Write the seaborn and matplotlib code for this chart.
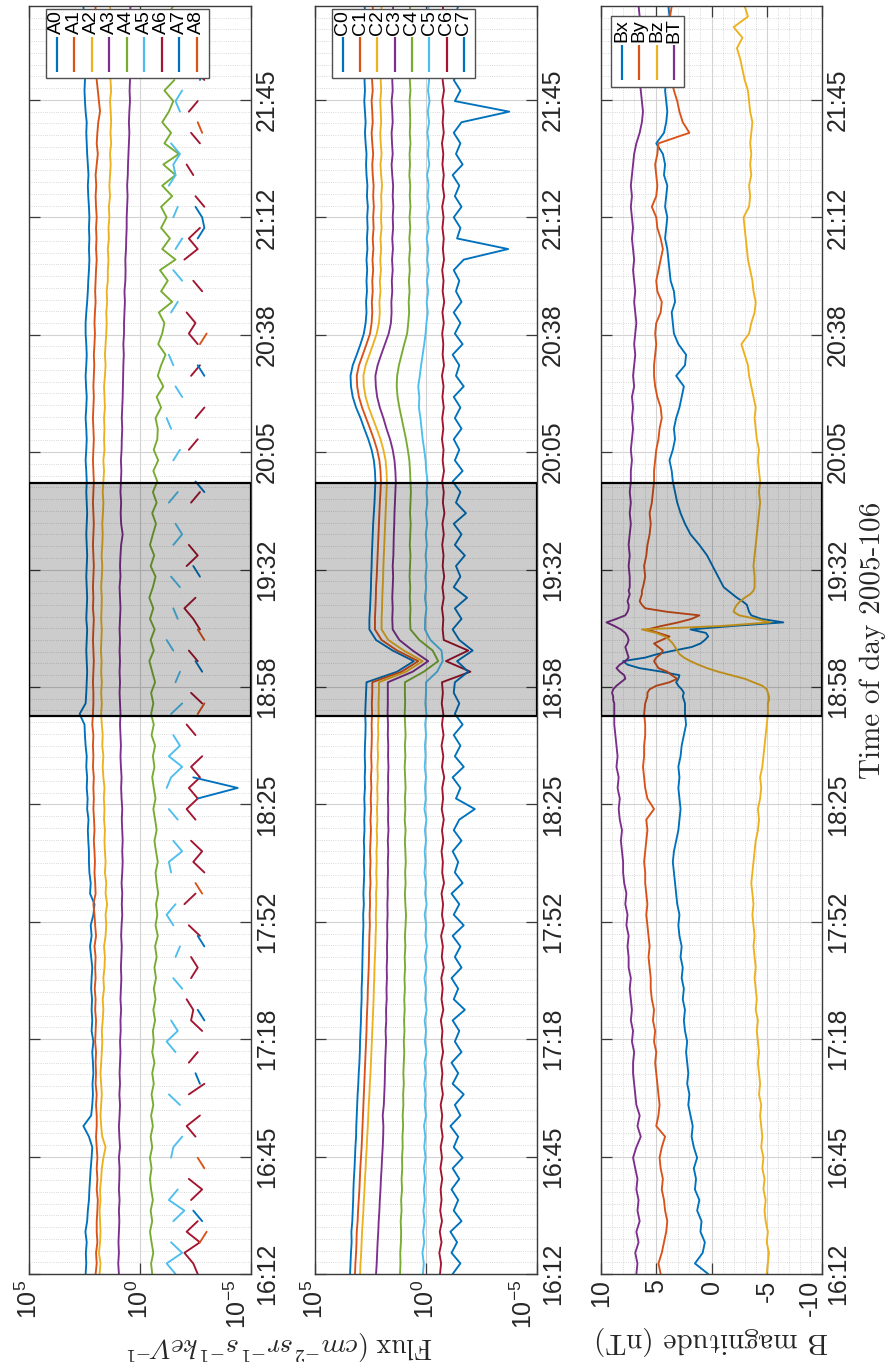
import numpy as np
import pandas as pd
import matplotlib
matplotlib.use("Agg")
import matplotlib.pyplot as plt
from matplotlib.patches import Rectangle
from matplotlib.ticker import NullLocator
import seaborn as sns

N = np.nan

# ---------------- time bases ----------------
T_START_H = 16.2                       # 16:12
AC_MINUTES = list(range(0, 361, 3))    # sample times (minutes after 16:12) for A and C channels
B_MINUTES = list(range(0, 160, 3)) + list(range(162, 196)) + list(range(198, 361, 3))
TIME_TICK_LABELS = ['16:12', '16:45', '17:18', '17:52', '18:25', '18:58',
                    '19:32', '20:05', '20:38', '21:12', '21:45']
SHADE_START_H = 18 + 50.5 / 60
SHADE_END_H = 19 + 56.5 / 60

# ---------------- panel 1: A channels (log10 flux) ----------------
A_NAMES = ['A0', 'A1', 'A2', 'A3', 'A4', 'A5', 'A6', 'A7', 'A8']
A0 = [2.45, 2.42, 2.44, 2.40, 2.46, 2.38, 2.35, 2.30, 2.28, 2.25,
      2.22, 2.18, 2.15, 2.30, 2.55, 2.20, 2.15, 2.12, 2.14, 2.10,
      2.12, 2.15, 2.10, 2.18, 2.15, 2.18, 2.16, 2.20, 2.18, 2.15,
      2.20, 2.25, 2.18, 2.22, 2.10, 2.05, 2.25, 2.22, 2.28, 2.30,
      2.30, 2.33, 2.35, 2.32, 2.38, 2.36, 2.40, 2.38, 2.42, 2.40,
      2.45, 2.48, 2.50, 2.72, 2.45, 2.42, 2.40, 2.38, 2.40, 2.42,
      2.40, 2.38, 2.42, 2.40, 2.38, 2.40, 2.42, 2.40, 2.38, 2.40,
      2.42, 2.40, 2.38, 2.40, 2.42, 2.40, 2.42, 2.45, 2.42, 2.40,
      2.42, 2.45, 2.42, 2.40, 2.43, 2.45, 2.42, 2.40, 2.42, 2.45,
      2.45, 2.42, 2.38, 2.35, 2.33, 2.30, 2.28, 2.30, 2.28, 2.30,
      2.28, 2.30, 2.33, 2.35, 2.32, 2.35, 2.38, 2.40, 2.42, 2.40,
      2.45, 2.48, 2.50, 2.48, 2.50, 2.52, 2.50, 2.52, 2.55, 2.52, 2.55]
A1 = [2.00, 1.95, 1.98, 1.92, 1.95, 1.95, 1.92, 1.90, 1.95, 1.92,
      1.95, 1.92, 1.95, 1.98, 1.95, 1.95, 1.98, 1.95, 2.00, 1.98,
      2.00, 1.98, 2.02, 2.00, 1.98, 2.02, 2.00, 2.04, 2.00, 2.02,
      2.00, 2.05, 1.98, 2.02, 2.05, 2.10, 2.00, 2.02, 2.05, 2.03,
      2.05, 2.08, 2.05, 2.07, 2.10, 2.08, 2.10, 2.08, 2.12, 2.10,
      2.12, 2.10, 2.15, 2.12, 2.10, 2.10, 2.12, 2.10, 2.08, 2.10,
      2.12, 2.10, 2.08, 2.12, 2.10, 2.12, 2.10, 2.08, 2.10, 2.12,
      2.10, 2.08, 2.10, 2.12, 2.10, 2.08, 2.10, 2.12, 2.10, 2.08,
      2.10, 2.12, 2.10, 2.08, 2.10, 2.08, 2.06, 2.08, 2.05, 2.03,
      2.05, 2.03, 2.00, 2.02, 2.00, 1.98, 1.95, 1.98, 1.96, 1.98,
      1.95, 1.98, 2.00, 1.97, 2.00, 1.95, 1.90, 1.95, 1.92, 1.88,
      1.80, 1.85, 1.90, 1.95, 1.98, 2.00, 2.02, 2.00, 2.03, 2.02, 2.00]
A2 = [1.82, 1.78, 1.85, 1.80, 1.78, 1.80, 1.82, 1.78, 1.80, 1.75,
      1.72, 1.65, 1.55, 1.70, 1.75, 1.78, 1.75, 1.72, 1.75, 1.78,
      1.75, 1.72, 1.70, 1.72, 1.68, 1.65, 1.68, 1.62, 1.65, 1.60,
      1.58, 1.62, 1.55, 1.52, 1.55, 1.48, 1.55, 1.52, 1.58, 1.55,
      1.58, 1.60, 1.58, 1.62, 1.60, 1.63, 1.60, 1.65, 1.68, 1.65,
      1.70, 1.68, 1.72, 1.75, 1.72, 1.75, 1.72, 1.75, 1.73, 1.76,
      1.74, 1.72, 1.75, 1.73, 1.72, 1.75, 1.72, 1.70, 1.73, 1.70,
      1.68, 1.70, 1.67, 1.65, 1.68, 1.65, 1.62, 1.65, 1.60, 1.62,
      1.60, 1.62, 1.58, 1.60, 1.62, 1.58, 1.55, 1.58, 1.55, 1.52,
      1.50, 1.52, 1.48, 1.50, 1.45, 1.45, 1.42, 1.45, 1.40, 1.42,
      1.38, 1.40, 1.35, 1.38, 1.35, 1.32, 1.35, 1.30, 1.33, 1.30,
      1.32, 1.35, 1.30, 1.33, 1.35, 1.32, 1.35, 1.33, 1.35, 1.32, 1.35]
A3 = [0.95, 0.98, 0.95, 0.97, 0.95, 0.93, 0.95, 0.92, 0.95, 0.93,
      0.92, 0.95, 0.90, 0.93, 0.95, 0.92, 0.90, 0.93, 0.90, 0.92,
      0.90, 0.88, 0.90, 0.87, 0.88, 0.85, 0.88, 0.86, 0.84, 0.86,
      0.84, 0.82, 0.85, 0.83, 0.80, 0.82, 0.80, 0.83, 0.80, 0.78,
      0.80, 0.78, 0.80, 0.82, 0.80, 0.83, 0.85, 0.83, 0.86, 0.88,
      0.86, 0.88, 0.90, 0.88, 0.90, 0.92, 0.90, 0.92, 0.90, 0.92,
      0.90, 0.92, 0.90, 0.88, 0.90, 0.92, 0.88, 0.90, 0.88, 0.85,
      0.78, 0.85, 0.87, 0.85, 0.88, 0.86, 0.84, 0.86, 0.83, 0.82,
      0.80, 0.82, 0.80, 0.78, 0.77, 0.76, 0.75, 0.73, 0.75, 0.72,
      0.72, 0.70, 0.68, 0.70, 0.66, 0.65, 0.66, 0.63, 0.62, 0.60,
      0.60, 0.58, 0.56, 0.58, 0.55, 0.54, 0.52, 0.50, 0.48, 0.50,
      0.48, 0.45, 0.47, 0.45, 0.43, 0.45, 0.43, 0.45, 0.44, 0.45, 0.43]
A4 = [-0.55, -0.50, -0.60, -0.52, -0.45, -0.55, -0.48, -0.58, -0.50, -0.45,
      -0.52, -0.45, -0.55, -0.48, -0.58, -0.50, -0.60, -0.52, -0.62, -0.55,
      -0.65, -0.55, -0.62, -0.58, -0.68, -0.60, -0.70, -0.62, -0.72, -0.65,
      -0.75, -0.68, -0.80, -0.70, -0.78, -0.72, -0.82, -0.75, -0.70, -0.80,
      -0.72, -0.65, -0.75, -0.68, -0.60, -0.70, -0.62, -0.55, -0.65, -0.58,
      -0.68, -0.52, -0.62, -0.50, -0.60, -0.50, -0.68, -0.55, -0.42, -0.62,
      -0.48, -0.66, -0.45, -0.60, -0.42, -0.58, -0.70, -0.48, -0.64, -0.45,
      -0.58, -0.72, -0.55, -0.75, -0.58, -0.78, -0.60, -0.82, -0.62, -0.78,
      -0.80, -0.70, -0.95, -0.75, -1.05, -0.80, -0.95, -1.15, -0.82, -1.00,
      -1.10, -0.85, -1.45, -0.95, -1.25, -0.90, -1.60, -1.00, -1.35, -0.95,
      -1.20, -0.95, -1.45, -1.00, -1.60, -1.05, -1.75, -1.10, -1.40, -1.00,
      -1.30, -1.50, -1.10, -1.55, N, -1.00, -1.45, N, N, -1.20, -1.50]
A5 = ([-1.6, -1.2, -1.9, -1.4, N, -1.5, -2.0, -1.3, -1.7, N] +
      [N, -1.4, -1.5, -1.9, N, N, -1.8, -1.3, N, N] +
      [N, -1.6, -1.2, -1.7, -1.4, N, N, -1.9, -1.5, N] +
      [-1.6, -1.8, N, -1.5, -1.2, -1.6, N, N, -1.4, -1.3] +
      [-1.9, -1.5, N, -1.7, -1.3, N, -1.2, -1.4, -1.9, -1.3] +
      [-1.8, -1.5, N, -1.4, -1.9, N, -1.6, -1.8, N, -1.5] +
      [-1.2, N, -1.7, -1.5, N, -1.8, -1.4, N, N, -1.5] +
      [-1.9, -1.6, N, -1.3, -1.7, N, N, -1.5, -1.8, N] +
      [-1.4, -1.2, N, -1.9, -1.6, N, -1.5, -1.3, N, N] +
      [N, -1.4, -1.7, N, -1.9, -1.5, N, -1.6, -1.9, N] +
      [-1.5, -1.7, N, -1.3, -1.6, -1.5, -1.8, -1.4, N, N] +
      [-1.8, -1.6, -1.9, N, -1.4, -1.7, N, -1.5, -1.3, N, N])
A6 = ([-2.6, -2.4, -2.0, -2.7, -2.1, -2.6, N, -2.3, -2.8, -2.2] +
      [N, -2.7, N, -2.5, -2.1, -2.7, N, -2.2, -2.9, N] +
      [-2.2, -2.6, N, -2.8, -2.3, -2.4, -2.1, N, -2.3, -2.6] +
      [-2.3, N, -2.7, -2.2, N, -2.0, -2.5, N, -2.9, -2.4] +
      [-2.8, -2.3, N, -2.5, -2.1, -2.6, -2.2, -2.7, -2.3, -2.8] +
      [N, -2.5, -2.1, N, -2.8, -2.3, N, N, -2.6, -2.2] +
      [N, -2.7, -2.4, -2.0, -2.5, N, N, -2.1, -2.6, -2.2] +
      [N, -2.8, N, -2.3, -2.7, N, -2.4, N, -2.2, -2.6] +
      [N, -2.5, -2.9, N, N, -2.3, -2.7, N, -2.6, -2.2] +
      [-2.5, -2.1, N, -2.8, -2.4, N, -2.0, -2.6, -2.2, -2.7] +
      [N, -2.9, -2.5, N, -2.4, -2.1, N, -2.7, -2.3, N] +
      [-2.2, -2.6, N, -2.9, -2.4, N, -2.3, -2.7, N, N, N])
A7 = ([N, N, N, N, N, -2.8, -2.4, N, N, N] +
      [N, N, N, N, N, N, N, N, -2.7, -2.5] +
      [N, N, N, N, -2.9, -2.6, N, N, N, N] +
      [N, -2.9, -2.6, N, N, N, N, N, N, N] +
      [N, N, N, N, N, -2.6, -4.4, -2.4, N, N] +
      [N, N, N, N, N, N, N, -2.8, -2.5, N] +
      [N, N, N, N, N, N, -2.7, -2.4, N, N] +
      [N, N, N, N, -2.9, -2.5, N, N, N, N] +
      [N, N, N, N, N, -2.9, -2.6, N, N, N] +
      [N, N, N, N, N, N, N, N, -2.6, -2.9] +
      [-2.8, -2.5, N, N, N, N, N, N, N, N] +
      [N, N, N, -2.7, -2.9, N, N, N, N, N, N])
A8 = ([N, N, N, -2.7, -3.0, N, N, N, N, N] +
      [-2.9, -2.6, N, N, N, N, N, N, N, N] +
      [N] * 10 +
      [N, N, N, N, N, N, -2.8, -2.5, N, N] +
      [N] * 10 +
      [N, N, N, -2.6, -2.9, N, N, N, N, N] +
      [-2.9, -2.6, N, N, N, N, N, N, N, N] +
      [N] * 10 +
      [N, N, N, N, N, N, N, N, -2.7, -3.0] +
      [N] * 10 +
      [N, N, N, N, N, N, N, N, -2.8, -2.6] +
      [N] * 11)

# ---------------- panel 2: C channels (log10 flux) ----------------
C_NAMES = ['C0', 'C1', 'C2', 'C3', 'C4', 'C5', 'C6', 'C7']
C0 = [3.42, 3.40, 3.38, 3.35, 3.36, 3.32, 3.30, 3.28, 3.27, 3.25,
      3.22, 3.20, 3.18, 3.15, 3.14, 3.12, 3.10, 3.08, 3.05, 3.03,
      3.00, 2.98, 2.97, 2.95, 2.93, 2.92, 2.90, 2.90, 2.88, 2.87,
      2.86, 2.85, 2.84, 2.82, 2.83, 2.80, 2.82, 2.80, 2.78, 2.80,
      2.78, 2.80, 2.77, 2.78, 2.76, 2.78, 2.75, 2.76, 2.74, 2.76,
      2.75, 2.73, 2.72, 2.74, 2.72, 2.70, 2.68, 1.30, 0.55, 1.50, 2.25, 2.55,
      2.55, 2.52, 2.50, 2.48, 2.47, 2.45, 2.44, 2.42,
      2.40, 2.38, 2.35, 2.32, 2.30, 2.28, 2.30, 2.35, 2.45, 2.60,
      2.78, 2.95, 3.15, 3.30, 3.38, 3.40, 3.30, 3.12, 2.95, 2.80,
      2.72, 2.68, 2.70, 2.66, 2.68, 2.65, 2.68, 2.64, 2.66, 2.63,
      2.65, 2.62, 2.66, 2.64, 2.68, 2.70, 2.68, 2.72, 2.75, 2.72,
      2.75, 2.78, 2.75, 2.77, 2.75, 2.78, 2.76, 2.75, 2.77, 2.75, 2.76]
C1 = [3.20, 3.18, 3.15, 3.13, 3.12, 3.08, 3.06, 3.03, 3.00, 2.98,
      2.96, 2.93, 2.90, 2.88, 2.86, 2.84, 2.82, 2.80, 2.78, 2.76,
      2.74, 2.72, 2.70, 2.68, 2.67, 2.65, 2.63, 2.62, 2.60, 2.58,
      2.57, 2.56, 2.55, 2.53, 2.54, 2.52, 2.53, 2.50, 2.52, 2.50,
      2.52, 2.50, 2.48, 2.50, 2.47, 2.49, 2.46, 2.48, 2.45, 2.47,
      2.45, 2.44, 2.45, 2.43, 2.44, 2.42, 2.42, 1.10, 0.35, 1.30, 2.00, 2.30,
      2.30, 2.28, 2.26, 2.25, 2.22, 2.20, 2.18, 2.16,
      2.14, 2.12, 2.10, 2.08, 2.05, 2.03, 2.05, 2.10, 2.20, 2.35,
      2.52, 2.70, 2.88, 3.02, 3.10, 3.12, 3.02, 2.85, 2.68, 2.52,
      2.45, 2.42, 2.44, 2.40, 2.42, 2.38, 2.41, 2.37, 2.40, 2.36,
      2.38, 2.35, 2.38, 2.36, 2.40, 2.42, 2.38, 2.42, 2.45, 2.40,
      2.42, 2.45, 2.40, 2.43, 2.40, 2.42, 2.40, 2.38, 2.40, 2.38, 2.40]
C2 = [2.97, 2.95, 2.92, 2.90, 2.88, 2.85, 2.82, 2.80, 2.77, 2.75,
      2.72, 2.70, 2.67, 2.65, 2.62, 2.60, 2.58, 2.55, 2.53, 2.50,
      2.48, 2.46, 2.44, 2.42, 2.40, 2.38, 2.36, 2.35, 2.33, 2.32,
      2.30, 2.28, 2.27, 2.25, 2.26, 2.24, 2.25, 2.22, 2.24, 2.22,
      2.23, 2.20, 2.22, 2.19, 2.21, 2.18, 2.20, 2.17, 2.19, 2.16,
      2.18, 2.15, 2.16, 2.13, 2.14, 2.12, 2.12, 0.90, 0.15, 1.00, 1.70, 2.00,
      2.00, 1.98, 1.97, 1.95, 1.93, 1.92, 1.90, 1.88,
      1.86, 1.84, 1.82, 1.80, 1.78, 1.76, 1.78, 1.82, 1.92, 2.05,
      2.22, 2.40, 2.58, 2.72, 2.80, 2.82, 2.72, 2.55, 2.38, 2.22,
      2.12, 2.08, 2.10, 2.05, 2.08, 2.03, 2.06, 2.02, 2.05, 2.00,
      2.03, 2.00, 2.02, 1.98, 2.02, 2.05, 2.00, 2.04, 2.06, 2.02,
      2.04, 2.06, 2.02, 2.04, 2.01, 2.03, 2.00, 2.02, 2.00, 2.02, 2.00]
C3 = [2.25, 2.22, 2.20, 2.18, 2.15, 2.13, 2.10, 2.08, 2.05, 2.03,
      2.00, 1.98, 1.95, 1.93, 1.92, 1.95, 1.90, 1.88, 1.86, 1.85,
      1.84, 1.82, 1.80, 1.82, 1.79, 1.80, 1.77, 1.78, 1.76, 1.77,
      1.75, 1.76, 1.74, 1.75, 1.73, 1.74, 1.72, 1.73, 1.71, 1.72,
      1.70, 1.72, 1.69, 1.71, 1.70, 1.72, 1.70, 1.71, 1.69, 1.71,
      1.70, 1.72, 1.71, 1.73, 1.72, 1.72, 1.72, 0.60, -0.10, 0.60, 1.20, 1.50,
      1.52, 1.50, 1.52, 1.50, 1.48, 1.50, 1.47, 1.46,
      1.45, 1.43, 1.42, 1.40, 1.38, 1.36, 1.38, 1.42, 1.50, 1.62,
      1.78, 1.92, 2.08, 2.20, 2.26, 2.28, 2.18, 2.02, 1.85, 1.68,
      1.58, 1.55, 1.56, 1.52, 1.54, 1.50, 1.53, 1.49, 1.52, 1.48,
      1.50, 1.47, 1.50, 1.48, 1.52, 1.55, 1.50, 1.53, 1.55, 1.50,
      1.52, 1.55, 1.50, 1.52, 1.49, 1.51, 1.48, 1.50, 1.48, 1.50, 1.48]
C4 = [1.17, 1.15, 1.16, 1.13, 1.12, 1.14, 1.10, 1.12, 1.08, 1.10,
      1.07, 1.08, 1.05, 1.06, 1.03, 1.05, 1.02, 1.03, 1.00, 1.02,
      1.00, 0.98, 1.00, 0.97, 0.99, 0.96, 0.98, 0.95, 0.97, 0.94,
      0.96, 0.93, 0.95, 0.92, 0.90, 0.93, 0.95, 0.92, 0.94, 0.91,
      0.93, 0.95, 0.92, 0.96, 0.93, 0.95, 0.92, 0.94, 0.96, 0.93,
      0.95, 0.92, 0.94, 0.96, 0.94, 0.95, 0.95, 0.10, -0.55, -0.30, 0.30, 0.70,
      0.72, 0.70, 0.73, 0.71, 0.74, 0.72, 0.70, 0.73,
      0.71, 0.69, 0.72, 0.70, 0.68, 0.70, 0.72, 0.75, 0.82, 0.90,
      1.00, 1.10, 1.20, 1.28, 1.32, 1.30, 1.22, 1.10, 0.98, 0.85,
      0.80, 0.76, 0.78, 0.74, 0.77, 0.73, 0.76, 0.72, 0.75, 0.71,
      0.74, 0.70, 0.73, 0.71, 0.75, 0.72, 0.74, 0.70, 0.73, 0.71,
      0.72, 0.74, 0.70, 0.73, 0.71, 0.74, 0.72, 0.70, 0.73, 0.71, 0.72]
C5 = [0.14, 0.10, 0.16, 0.08, 0.13, 0.06, 0.12, 0.05, 0.10, 0.04,
      0.10, 0.02, 0.08, 0.03, 0.09, 0.00, 0.06, 0.02, 0.08, 0.01,
      0.07, -0.02, 0.05, 0.00, 0.06, -0.03, 0.04, 0.00, 0.07, -0.02,
      0.05, -0.04, 0.03, -0.01, 0.06, -0.03, 0.04, 0.00, 0.07, 0.02,
      0.06, 0.00, 0.05, -0.02, 0.07, 0.01, 0.05, 0.00, 0.06, 0.02,
      0.05, 0.00, 0.04, -0.02, 0.03, 0.00, 0.00, -0.50, -0.75, -0.70, -0.20, 0.05,
      0.04, -0.02, 0.05, -0.01, 0.03, -0.03, 0.02, -0.04,
      0.01, -0.05, 0.00, -0.06, -0.02, -0.07, -0.01, 0.02, 0.08, 0.15,
      0.20, 0.25, 0.32, 0.30, 0.35, 0.28, 0.22, 0.15, 0.08, 0.02,
      -0.02, -0.08, -0.03, -0.10, -0.04, -0.12, -0.05, -0.10, -0.03, -0.12,
      -0.06, -0.14, -0.07, -0.12, -0.05, -0.15, -0.08, -0.13, -0.06, -0.14,
      -0.08, -0.16, -0.09, -0.14, -0.07, -0.15, -0.10, -0.18, -0.08, -0.14, -0.10]
C6 = [-0.63, -0.68, -0.60, -0.70, -0.62, -0.72, -0.64, -0.70, -0.66, -0.73,
      -0.65, -0.72, -0.66, -0.75, -0.68, -0.73, -0.66, -0.76, -0.69, -0.74,
      -0.68, -0.77, -0.70, -0.74, -0.67, -0.78, -0.70, -0.75, -0.69, -0.80,
      -0.71, -0.76, -0.68, -0.80, -0.72, -0.77, -0.70, -0.81, -0.73, -0.76,
      -0.70, -0.78, -0.72, -0.80, -0.71, -0.77, -0.73, -0.82, -0.72, -0.78,
      -0.70, -0.79, -0.72, -0.78, -0.71, -0.76, -0.72, -2.00, -0.90, -1.90, -0.80, -0.75,
      -0.78, -0.72, -0.80, -0.74, -0.82, -0.75, -0.79, -0.73,
      -0.80, -0.74, -0.83, -0.76, -0.80, -0.73, -0.81, -0.75, -0.79, -0.72,
      -0.78, -0.73, -0.80, -0.74, -0.79, -0.72, -0.81, -0.75, -0.78, -0.73,
      -0.80, -0.74, -0.82, -0.75, -0.79, -0.73, -0.81, -0.76, -0.80, -0.74,
      -0.79, -0.73, -0.82, -0.75, -0.80, -0.74, -0.78, -0.72, -0.80, -0.75,
      -0.79, -0.73, -0.81, -0.75, -0.78, -0.74, -0.80, -0.73, -0.78, -0.75, -0.77]
C7 = [-1.20, -1.55, -1.15, -1.40, -1.10, -1.60, -1.25, -1.45, -1.15, -1.50,
      -1.20, -1.65, -1.25, -1.45, -1.10, -1.55, -1.30, -1.70, -1.20, -1.45,
      -1.15, -1.60, -1.30, -1.50, -1.20, -1.75, -1.25, -1.45, -1.15, -1.60,
      -1.30, -1.55, -1.20, -1.70, -1.25, -1.50, -1.15, -1.65, -1.30, -1.45,
      -1.20, -1.60, -1.25, -1.50, -2.20, -1.35, -1.55, -1.20, -1.70, -1.30,
      -1.55, -1.25, -1.65, -1.30, -1.50, -1.25, -1.30, -1.90, -1.40, -2.10, -1.50, -1.20,
      -1.60, -1.30, -1.85, -1.25, -1.55, -1.35, -1.75, -1.30,
      -1.60, -1.25, -1.80, -1.35, -1.55, -1.20, -1.65, -1.30, -1.50, -1.25,
      -1.60, -1.30, -1.55, -1.25, -1.70, -1.35, -1.50, -1.20, -1.65, -1.30,
      -1.55, -1.25, -1.60, -1.35, -1.50, -1.25, -1.70, -3.70, -1.40, -1.55,
      -1.25, -1.60, -1.30, -1.50, -1.20, -1.65, -1.35, -1.55, -1.25, -1.60,
      -3.75, -1.30, -1.55, -1.25, -1.60, -1.35, -1.50, -1.25, -1.55, -1.30, -1.45]

# ---------------- panel 3: magnetic field (nT) ----------------
B_NAMES = ['Bx', 'By', 'Bz', 'BT']
BX = ([0.3, 1.5, 0.8, 0.6, 1.0, 0.9, 1.3, 1.1, 1.5, 1.4,
       1.6, 1.3, 1.6, 1.8, 1.7, 1.9, 2.1, 2.0, 2.2, 2.1,
       2.2, 2.3, 2.2, 2.4, 2.5, 2.4, 2.6, 2.5, 2.7, 2.6,
       2.8, 2.7, 2.9, 3.0, 2.9, 3.1, 3.2, 3.3, 3.4, 3.5,
       3.4, 3.2, 3.0, 2.9, 2.8, 2.9, 3.0, 2.9, 3.0, 2.8,
       2.7, 2.5, 2.3, 2.4] +
      [2.4, 2.5, 2.6, 2.5, 2.7, 3.0, 3.2, 3.0, 2.9, 4.5,
       6.5, 7.6, 8.0, 6.0, 4.9, 3.4, 1.8, 1.0, 0.6, 0.3,
       0.5, 1.9, -2.0, -6.5, -4.5, -3.6, -3.4, -3.3, -3.2, -2.8,
       -2.3, -1.9, -1.5, -1.1] +
      [-0.6, -0.1, 0.4, 1.1, 1.9, 2.4, 2.8, 3.1, 3.3, 3.5,
       3.6, 3.8, 3.5, 3.3, 3.4, 3.2, 2.9, 2.7, 2.5, 3.2,
       2.4, 2.3, 3.0, 3.4, 3.5, 3.6, 3.3, 3.4, 3.7, 3.8,
       3.9, 4.0, 4.2, 4.1, 4.0, 4.2, 4.1, 4.0, 4.3, 4.2,
       4.4, 5.0, 4.3, 4.1, 4.0, 4.1, 4.2, 4.1, 4.3, 4.2,
       4.1, 4.0, 3.9, 3.8, 3.9])
BY = ([4.6, 4.8, 4.5, 4.3, 4.1, 4.0, 4.2, 4.3, 4.5, 4.4,
       4.6, 4.7, 4.5, 4.2, 5.0, 4.8, 4.7, 4.8, 4.9, 5.0,
       5.1, 5.0, 5.2, 5.1, 5.3, 5.2, 5.4, 5.5, 5.5, 5.6,
       5.7, 5.6, 5.7, 5.8, 5.9, 5.8, 5.9, 6.0, 6.0, 6.1,
       6.0, 5.9, 5.8, 5.9, 5.2, 5.8, 6.0, 6.1, 6.2, 6.1,
       6.1, 6.0, 6.0, 6.1] +
      [6.0, 5.9, 5.8, 5.8, 5.6, 5.0, 3.8, 3.1, 3.6, 4.0,
       4.8, 5.0, 5.2, 5.0, 4.6, 4.4, 4.8, 5.2, 4.5, 3.8,
       4.8, 5.8, 4.5, 3.0, 1.8, 1.1, 4.0, 6.0, 6.3, 6.5,
       6.4, 6.3, 6.3, 6.2] +
      [6.0, 6.1, 5.9, 5.8, 5.6, 5.5, 5.6, 5.4, 5.3, 5.2,
       5.2, 5.1, 5.0, 4.8, 4.7, 4.5, 4.6, 4.9, 5.1, 5.2,
       5.2, 5.1, 5.0, 5.1, 5.0, 4.6, 4.5, 4.9, 5.0, 4.8,
       4.6, 4.4, 4.6, 4.9, 5.0, 5.4, 5.0, 4.9, 5.0, 5.1,
       4.9, 4.8, 2.0, 2.6, 2.9, 3.1, 3.4, 3.6, 3.7, 3.8,
       3.7, 3.8, 3.7, 3.75, 3.6])
BZ = ([-5.0, -5.1, -5.2, -5.0, -5.1, -4.9, -4.8, -4.9, -4.7, -4.8,
       -4.6, -4.7, -4.5, -4.6, -4.5, -4.4, -4.5, -4.3, -4.4, -4.3,
       -4.2, -4.3, -4.2, -4.1, -4.2, -4.0, -4.1, -4.0, -3.9, -4.0,
       -3.9, -3.8, -3.9, -3.8, -3.7, -3.8, -3.7, -3.6, -3.7, -3.8,
       -3.9, -4.0, -4.2, -4.3, -4.2, -4.4, -4.5, -4.4, -4.6, -4.7,
       -4.8, -4.9, -5.0, -5.1] +
      [-5.1, -5.2, -5.2, -5.1, -5.0, -4.6, -3.8, -3.0, -1.8, -0.6,
       0.4, 1.2, 1.9, 2.5, 2.9, 3.1, 3.3, 3.5, 3.8, 4.2,
       5.0, 6.3, -1.0, -5.3, -4.0, -2.5, -2.0, -2.1, -2.3, -2.6,
       -3.0, -3.5, -3.8, -3.9] +
      [-3.9, -3.8, -3.9, -4.0, -4.1, -4.2, -4.3, -4.4, -4.3, -4.4,
       -4.3, -4.2, -4.3, -4.1, -4.0, -3.9, -4.0, -3.8, -3.6, -3.4,
       -3.3, -3.0, -2.7, -3.4, -3.6, -3.9, -4.0, -3.8, -3.7, -3.5,
       -3.3, -3.2, -3.1, -3.0, -2.9, -3.4, -3.5, -3.4, -3.6, -3.5,
       -3.6, -3.5, -3.6, -3.7, -3.5, -3.4, -3.3, -3.0, -2.8, -2.6,
       -2.3, -2.8, -2.0, -3.3, -3.0])
BT = ([6.8, 6.7, 6.9, 6.6, 6.8, 6.5, 6.7, 6.6, 6.8, 6.7,
       6.9, 7.1, 6.8, 6.4, 6.7, 6.5, 6.8, 6.9, 7.0, 7.1,
       7.1, 7.0, 7.2, 7.1, 7.3, 7.2, 7.3, 7.4, 7.3, 7.5,
       7.5, 7.6, 7.5, 7.7, 7.6, 7.8, 7.7, 7.9, 8.0, 8.0,
       8.1, 8.2, 8.1, 8.3, 8.4, 8.3, 8.5, 8.4, 8.6, 8.5,
       8.6, 8.7, 8.8, 8.8] +
      [8.8, 8.9, 8.9, 9.0, 8.9, 8.6, 8.2, 7.8, 7.9, 8.3,
       8.6, 8.3, 7.8, 7.5, 7.6, 7.7, 7.8, 7.6, 7.5, 7.6,
       7.8, 8.2, 8.8, 9.5, 8.6, 7.8, 7.6, 7.5, 7.5, 7.6,
       7.5, 7.4, 7.5, 7.4] +
      [7.4, 7.5, 7.4, 7.5, 7.4, 7.3, 7.4, 7.3, 7.4, 7.3,
       7.3, 7.2, 7.3, 7.2, 7.1, 7.2, 7.1, 7.2, 7.0, 7.1,
       7.0, 6.9, 7.0, 6.9, 6.8, 6.9, 7.0, 6.9, 7.0, 7.1,
       7.0, 7.1, 7.2, 7.1, 7.2, 7.3, 7.2, 7.3, 7.2, 7.1,
       7.0, 6.8, 6.5, 6.3, 6.2, 6.3, 6.4, 6.5, 6.6, 6.5,
       6.6, 6.5, 6.6, 6.5, 6.6])

MATLAB_COLORS = ['#0072BD', '#D95319', '#EDB120', '#7E2F8E', '#77AC30', '#4DBEEE', '#A2142F']
A_COLORS = MATLAB_COLORS + ['#0072BD', '#D95319']
C_COLORS = MATLAB_COLORS + ['#0072BD']
B_COLORS = MATLAB_COLORS[:4]

A_SERIES = [A0, A1, A2, A3, A4, A5, A6, A7, A8]
C_SERIES = [C0, C1, C2, C3, C4, C5, C6, C7]
B_SERIES = [BX, BY, BZ, BT]
for s in A_SERIES + C_SERIES:
    assert len(s) == len(AC_MINUTES), len(s)
for s in B_SERIES:
    assert len(s) == len(B_MINUTES), len(s)


def long_form(minutes, names, series, log_values):
    """Tidy table; NaN gaps split a series into separately drawn segments."""
    rows = []
    for name, vals in zip(names, series):
        seg, in_gap = 0, True
        for m, v in zip(minutes, vals):
            if v is None or np.isnan(v):
                in_gap = True
                continue
            if in_gap:
                seg += 1
                in_gap = False
            rows.append((name, T_START_H + m / 60.0,
                         10.0 ** v if log_values else v, f'{name}_{seg}'))
    return pd.DataFrame(rows, columns=['series', 'time', 'value', 'seg'])


sns.set_theme(style='white')
plt.rcParams['font.family'] = ['Liberation Sans', 'DejaVu Sans']
plt.rcParams['axes.unicode_minus'] = False

FIG_W, FIG_H = 888, 1362
fig = plt.figure(figsize=(FIG_W / 100, FIG_H / 100), dpi=100)
fig.patch.set_facecolor('white')

AX_BOTTOM, AX_TOP = 1274, 6
panel_x = [(29, 222), (315, 222), (601, 221)]
axes = [fig.add_axes([x0 / FIG_W, 1 - AX_BOTTOM / FIG_H, w / FIG_W, (AX_BOTTOM - AX_TOP) / FIG_H])
        for x0, w in panel_x]

time_ticks = T_START_H + np.arange(11) * 5 / 9
time_minor = T_START_H + np.arange(109) * 5 / 90

TICK_FS = 18
LINE_W = 1.35
GRID_C = '#d2d2d2'
MINOR_C = '#cdcdcd'
FRAME_C = '#3a3a3a'


def style_axes(ax):
    ax.set_ylim(T_START_H, T_START_H + 6)
    ax.set_yticks(time_ticks)
    ax.set_yticklabels(TIME_TICK_LABELS, rotation=90, va='center', fontsize=TICK_FS, color='#262626')
    ax.set_yticks(time_minor, minor=True)
    ax.yaxis.set_ticks_position('both')
    ax.tick_params(axis='y', which='major', direction='in', length=8, width=0.9,
                   color=FRAME_C, labelleft=False, labelright=True, pad=3)
    ax.tick_params(axis='x', which='major', direction='in', length=8, width=0.9,
                   color=FRAME_C, top=True, bottom=True, labelbottom=True, pad=4,
                   labelsize=TICK_FS, labelcolor='#262626')
    ax.tick_params(which='minor', length=0)
    ax.grid(True, which='major', color=GRID_C, lw=0.8, ls='-')
    ax.grid(True, which='minor', axis='y', color=MINOR_C, lw=0.6, ls=':')
    ax.set_xlabel('')
    ax.set_ylabel('')
    for sp in ax.spines.values():
        sp.set_color(FRAME_C)
        sp.set_linewidth(1.0)
        sp.set_visible(True)
    ax.set_axisbelow(True)
    ax.axhspan(SHADE_START_H, SHADE_END_H, facecolor=(0, 0, 0, 0.2),
               edgecolor='black', lw=1.6, zorder=4)
    # last value label sits inside the panel edge, clear of the time labels
    ax.get_xticklabels()[-1].set_horizontalalignment('right')


def draw_legend(ax, names, colors, box, x_first, x_step, line_y, text_y):
    ax.add_patch(Rectangle((box[0], box[1]), box[2] - box[0], box[3] - box[1],
                           transform=ax.transAxes, facecolor='white',
                           edgecolor='#505050', lw=1.0, zorder=10))
    for k, (n, c) in enumerate(zip(names, colors)):
        x = x_first + k * x_step
        ax.plot([x, x], line_y, transform=ax.transAxes, color=c, lw=1.6,
                solid_capstyle='butt', zorder=11)
        ax.text(x, text_y, n, transform=ax.transAxes, rotation=90, ha='center',
                va='center', fontsize=14, color='black', zorder=12)


def ay(py):
    return (AX_BOTTOM - py) / (AX_BOTTOM - AX_TOP)


LOG_TICK_LABELS = [r'$\mathdefault{10^{5}}$', r'$\mathdefault{10^{0}}$', r'$\mathdefault{10^{-5}}$']

# ---- panel 1 ----
ax = axes[0]
ax.set_xscale('log')
dfA = long_form(AC_MINUTES, A_NAMES, A_SERIES, True)
sns.lineplot(data=dfA, x='value', y='time', hue='series', hue_order=A_NAMES,
             palette=dict(zip(A_NAMES, A_COLORS)), units='seg', estimator=None,
             sort=False, orient='y', legend=False, linewidth=LINE_W, ax=ax)
ax.set_xlim(1e5, 1e-5)
ax.set_xticks([1e5, 1e0, 1e-5])
ax.set_xticklabels(LOG_TICK_LABELS, rotation=90)
ax.xaxis.set_minor_locator(NullLocator())
style_axes(ax)
draw_legend(ax, A_NAMES, A_COLORS, (17 / 222, ay(78), 180 / 222, ay(9)),
            27.7 / 222, 17.5 / 222, (ay(72), ay(37)), ay(22.5))

# ---- panel 2 ----
ax = axes[1]
ax.set_xscale('log')
dfC = long_form(AC_MINUTES, C_NAMES, C_SERIES, True)
sns.lineplot(data=dfC, x='value', y='time', hue='series', hue_order=C_NAMES,
             palette=dict(zip(C_NAMES, C_COLORS)), units='seg', estimator=None,
             sort=False, orient='y', legend=False, linewidth=LINE_W, ax=ax)
ax.set_xlim(1e5, 1e-5)
ax.set_xticks([1e5, 1e0, 1e-5])
ax.set_xticklabels(LOG_TICK_LABELS, rotation=90)
ax.xaxis.set_minor_locator(NullLocator())
style_axes(ax)
draw_legend(ax, C_NAMES, C_COLORS, (16.7 / 222, ay(78), 160 / 222, ay(9)),
            27.7 / 222, 17.3 / 222, (ay(72), ay(37)), ay(22.5))

# ---- panel 3 ----
ax = axes[2]
dfB = long_form(B_MINUTES, B_NAMES, B_SERIES, False)
sns.lineplot(data=dfB, x='value', y='time', hue='series', hue_order=B_NAMES,
             palette=dict(zip(B_NAMES, B_COLORS)), units='seg', estimator=None,
             sort=False, orient='y', legend=False, linewidth=LINE_W, ax=ax)
ax.set_xlim(10, -10)
ax.set_xticks([10, 5, 0, -5, -10])
ax.set_xticklabels(['10', '5', '0', '-5', '-10'], rotation=90)
ax.set_xticks(np.arange(-10, 11, 1), minor=True)
style_axes(ax)
ax.grid(True, which='minor', axis='x', color=MINOR_C, lw=0.6, ls=':')
draw_legend(ax, B_NAMES, B_COLORS, (9.7 / 221, ay(87), 83 / 221, ay(16)),
            20.7 / 221, 17.4 / 221, (ay(80), ay(45)), ay(31))

# ---- figure labels ----
fig.text(280 / FIG_W, 1 - 1346 / FIG_H, r'$\mathrm{Flux}\ (cm^{-2}sr^{-1}s^{-1}keV^{-1}$',
         rotation=180, ha='center', va='center', fontsize=20, math_fontfamily='cm')
fig.text(711 / FIG_W, 1 - 1341 / FIG_H, 'B magnitude (nT)', family='cmr10',
         rotation=180, ha='center', va='center', fontsize=21)
fig.text(873 / FIG_W, 1 - 640 / FIG_H, 'Time of day 2005-106', family='cmr10',
         rotation=90, ha='center', va='center', fontsize=21)

fig.savefig('out.png', dpi=100, facecolor='white')
